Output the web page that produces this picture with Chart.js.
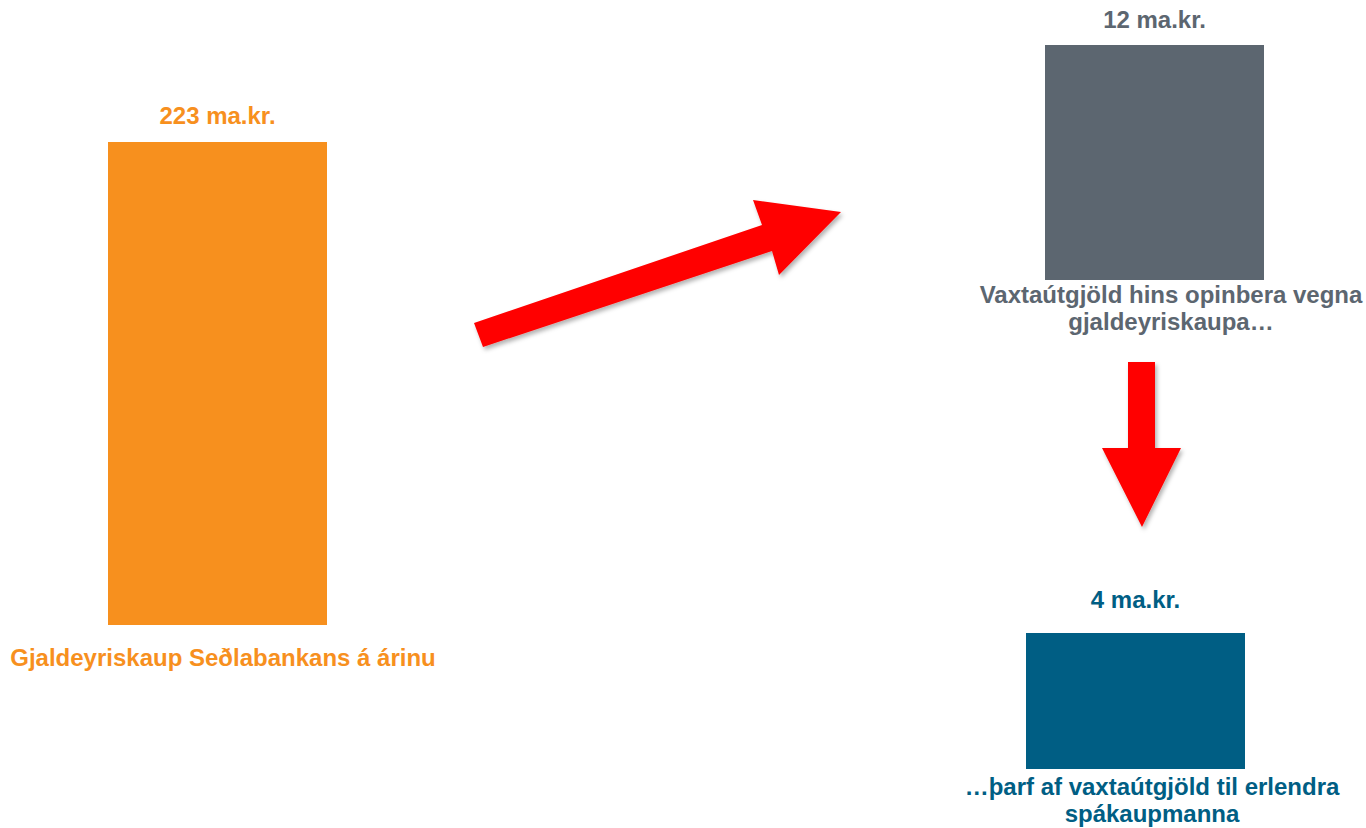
<!DOCTYPE html>
<html>
<head>
<meta charset="utf-8">
<script src="https://cdn.jsdelivr.net/npm/chart.js@4.4.1/dist/chart.umd.min.js"></script>
<style>
  html, body { margin: 0; padding: 0; background: #fff; }
  body { width: 1366px; height: 828px; position: relative; overflow: hidden;
         font-family: "Liberation Sans", Arial, sans-serif; font-weight: bold; }
  .box { position: absolute; }
  .lbl { position: absolute; font-size: 24px; line-height: 27px; text-align: center; white-space: nowrap; transform: translateX(-50%); }
  svg { position: absolute; left: 0; top: 0; }
</style>
</head>
<body>
<svg width="1366" height="828">
  <defs>
    <filter id="sh" x="-20%" y="-20%" width="140%" height="140%">
      <feDropShadow dx="2" dy="3" stdDeviation="2" flood-color="#000" flood-opacity="0.3"/>
    </filter>
  </defs>
  <polygon filter="url(#sh)" fill="#ff0000" points="474,323 762,225 753,200 841,212 779,275 772,251 483,347"/>
  <polygon filter="url(#sh)" fill="#ff0000" points="1128,362 1155,362 1155,448 1181,448 1142,527 1102,448 1128,448"/>
</svg>
<script>
// data
var categories = [
  ['Gjaldeyriskaup Seðlabankans á árinu'],
  ['Vaxtaútgjöld hins opinbera vegna', 'gjaldeyriskaupa…'],
  ['…þarf af vaxtaútgjöld til erlendra', 'spákaupmanna']
];
var values = [223, 12, 4];
var unit = ' ma.kr.';

// look of each panel (bar box + where the texts sit)
var panels = [
  { color: '#f7901e', left: 108, top: 142, w: 219, h: 483, valTop: 102, catTop: 644, catX: 223 },
  { color: '#5c6670', left: 1045, top: 45, w: 219, h: 235, valTop: 6, catTop: 281, catX: 1171 },
  { color: '#005e84', left: 1026, top: 633, w: 219, h: 136, valTop: 586, catTop: 773, catX: 1152 }
];

values.forEach(function(v, i){
  var p = panels[i];
  var box = document.createElement('div');
  box.className = 'box';
  box.style.left = p.left + 'px'; box.style.top = p.top + 'px';
  box.style.width = p.w + 'px'; box.style.height = p.h + 'px';
  var cv = document.createElement('canvas');
  box.appendChild(cv);
  document.body.appendChild(box);

  new Chart(cv, {
    type: 'bar',
    data: {
      labels: [categories[i].join(' ')],
      datasets: [{ data: [v], backgroundColor: p.color, barPercentage: 1, categoryPercentage: 1, borderWidth: 0 }]
    },
    options: {
      responsive: true,
      maintainAspectRatio: false,
      animation: false,
      layout: { padding: 0 },
      plugins: { legend: { display: false }, tooltip: { enabled: false } },
      scales: {
        x: { display: false },
        y: { display: false, min: 0, max: v }
      }
    }
  });

  var val = document.createElement('div');
  val.className = 'lbl';
  val.style.color = p.color;
  val.style.left = (p.left + p.w / 2) + 'px';
  val.style.top = p.valTop + 'px';
  val.textContent = v + unit;
  document.body.appendChild(val);

  var cat = document.createElement('div');
  cat.className = 'lbl';
  cat.style.color = p.color;
  cat.style.left = p.catX + 'px';
  cat.style.top = p.catTop + 'px';
  cat.innerHTML = categories[i].join('<br>');
  document.body.appendChild(cat);
});
</script>
</body>
</html>
